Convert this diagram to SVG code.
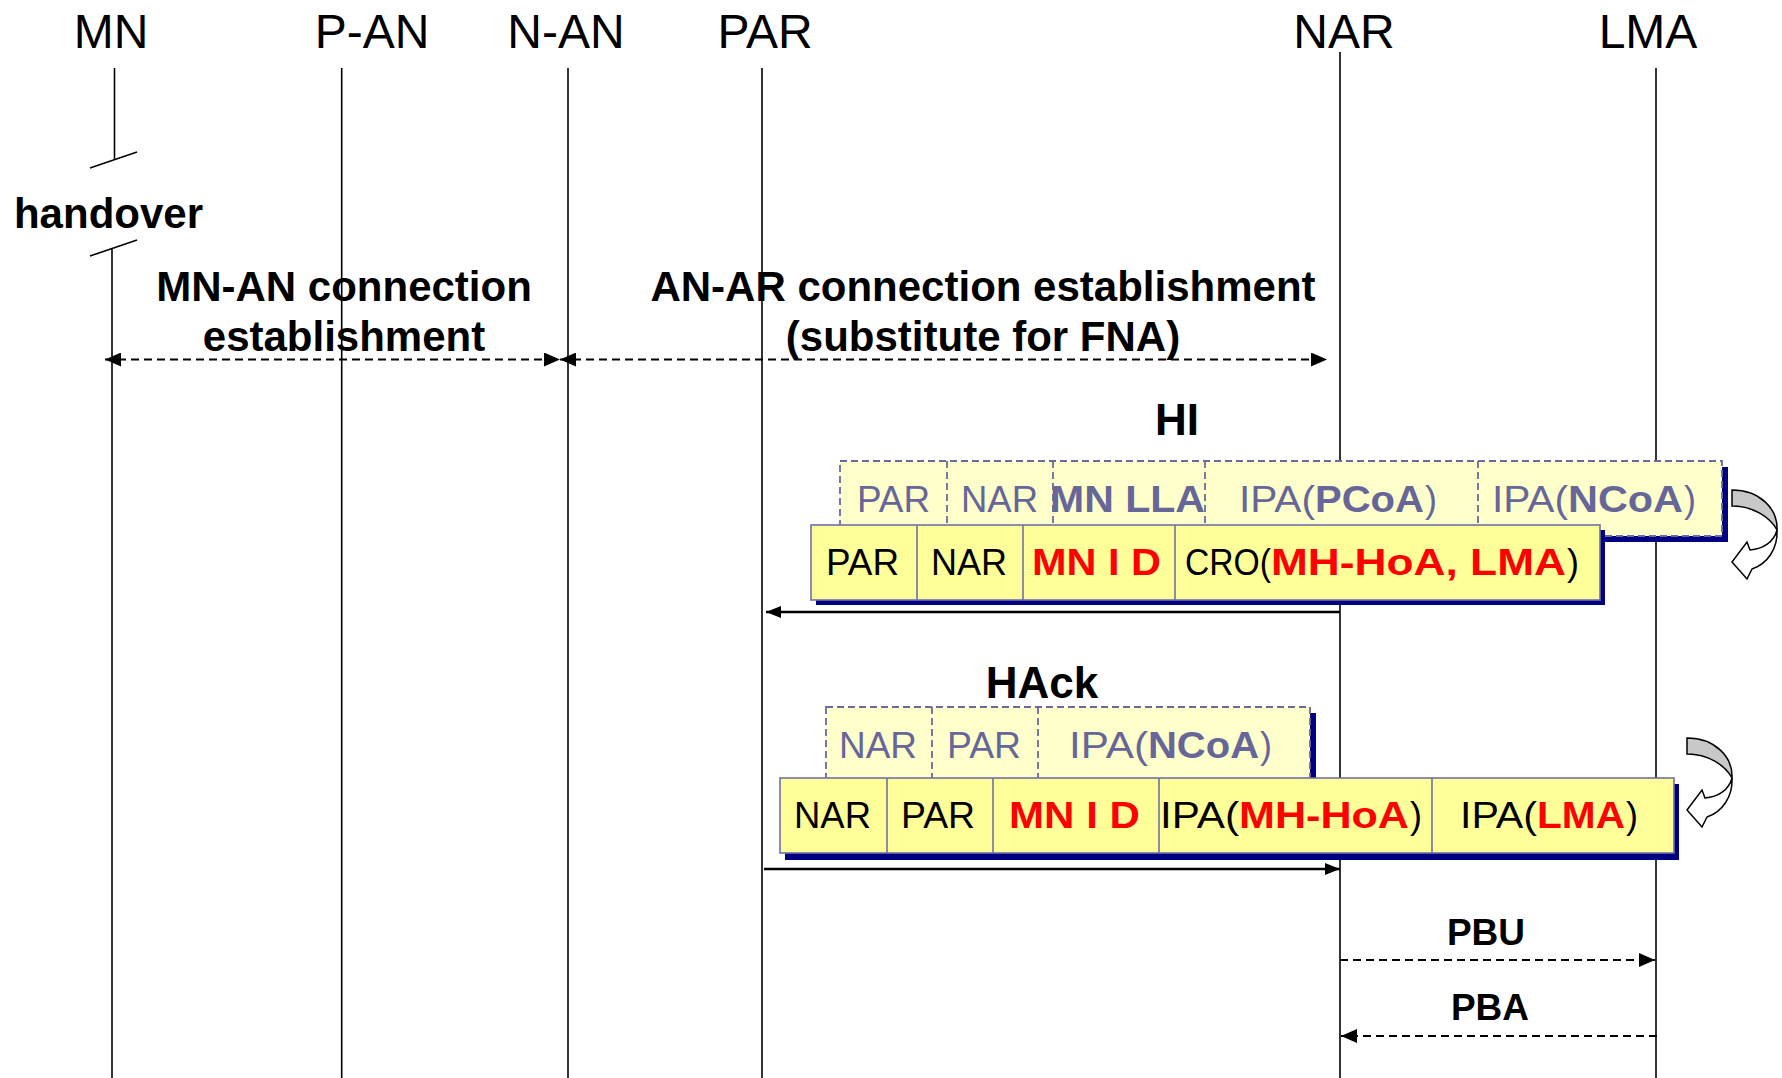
<svg xmlns="http://www.w3.org/2000/svg" width="1782" height="1078" viewBox="0 0 1782 1078">
<style>
.life{stroke:#000;stroke-width:1.6;fill:none}
.hdr{font-family:"Liberation Sans",Arial,sans-serif;font-size:48px;fill:#000;text-anchor:middle}
.lbl{font-family:"Liberation Sans",Arial,sans-serif;font-size:42px;font-weight:bold;fill:#000;text-anchor:middle}
.msg{font-family:"Liberation Sans",Arial,sans-serif;font-size:44px;font-weight:bold;fill:#000;text-anchor:middle}
.pb{font-family:"Liberation Sans",Arial,sans-serif;font-size:37px;font-weight:bold;fill:#000;text-anchor:middle}
.dash{stroke:#000;stroke-width:2;stroke-dasharray:8 5;fill:none}
.solid{stroke:#000;stroke-width:2.5;fill:none}
.front{fill:#FFFF99;stroke:#7070A8;stroke-width:1.6}
.back{fill:#FFFFCC;stroke:#6A6A9E;stroke-width:1.8;stroke-dasharray:7 4}
.shadow{fill:#000080}
.div{stroke:#7070A8;stroke-width:1.6}
.ddiv{stroke:#6A6A9E;stroke-width:1.8;stroke-dasharray:7 4}
.cell{font-family:"Liberation Sans",Arial,sans-serif;font-size:36px}
.ft{fill:#000}
.bt{fill:#666699}
.b{font-weight:bold}
.red{fill:#FF0000;font-weight:bold}
.gray{fill:#C8C8C8;stroke:#000;stroke-width:1.5}
.white{fill:#FFFFFF;stroke:#000;stroke-width:1.5}
</style>
<defs>
<marker id="ah" viewBox="0 0 16 14" refX="16" refY="7" markerWidth="16" markerHeight="14" markerUnits="userSpaceOnUse" orient="auto-start-reverse">
<path d="M0,0 L16,7 L0,14 Z" fill="#000"/>
</marker>
<marker id="sh" viewBox="0 0 15 12" refX="15" refY="6" markerWidth="15" markerHeight="12" markerUnits="userSpaceOnUse" orient="auto">
<path d="M0,0 L15,6 L0,12 Z" fill="#000"/>
</marker>
<g id="uturn">
<path class="gray" d="M0,0 C28,0 46,19 45,40 C38,27 21,16 0,16 Z"/>
<path class="white" d="M45,40 C42,52 31,59 18,60 L15,52 L0,72 L15,89 L20,79 C35,74 46,59 45,40 Z"/>
</g>
</defs>
<rect width="1782" height="1078" fill="#fff"/>

<g id="node-MN">
<text class="hdr" x="111" y="48">MN</text>
<line class="life" x1="114.5" y1="68" x2="114.5" y2="160"/>
<line class="life" x1="90" y1="168" x2="137" y2="152"/>
<line class="life" x1="90" y1="256" x2="137" y2="240"/>
<line class="life" x1="112" y1="248" x2="112" y2="1078"/>
<text class="lbl" x="108.5" y="228">handover</text>
</g>
<g id="node-P-AN">
<text class="hdr" x="372" y="48">P-AN</text>
<line class="life" x1="341.7" y1="68" x2="341.7" y2="1078"/>
</g>
<g id="node-N-AN">
<text class="hdr" x="566" y="48">N-AN</text>
<line class="life" x1="568" y1="68" x2="568" y2="1078"/>
</g>
<g id="node-PAR">
<text class="hdr" x="765" y="48">PAR</text>
<line class="life" x1="762" y1="68" x2="762" y2="1078"/>
</g>
<g id="node-NAR">
<text class="hdr" x="1344" y="48">NAR</text>
<line class="life" x1="1340" y1="52" x2="1340" y2="1078"/>
</g>
<g id="node-LMA">
<text class="hdr" x="1648" y="48">LMA</text>
<line class="life" x1="1656" y1="68" x2="1656" y2="1078"/>
</g>

<g id="labels">
<text class="lbl" x="344" y="301">MN-AN connection</text>
<text class="lbl" x="344" y="351">establishment</text>
<text class="lbl" x="983" y="301">AN-AR connection establishment</text>
<text class="lbl" x="983" y="351">(substitute for FNA)</text>
<text class="msg" x="1177" y="435">HI</text>
<text class="msg" x="1042" y="698">HAck</text>
<text class="pb" x="1486" y="945">PBU</text>
<text class="pb" x="1490" y="1020">PBA</text>
</g>

<g id="connectors">
<line class="dash" x1="105" y1="359.5" x2="560" y2="359.5" marker-start="url(#ah)" marker-end="url(#ah)"/>
<line class="dash" x1="560" y1="359.5" x2="1327" y2="359.5" marker-start="url(#ah)" marker-end="url(#ah)"/>
<line class="solid" x1="1340" y1="612" x2="766" y2="612" marker-end="url(#sh)"/>
<line class="solid" x1="764" y1="869" x2="1340" y2="869" marker-end="url(#sh)"/>
<line class="dash" x1="1340" y1="960" x2="1655" y2="960" marker-end="url(#ah)"/>
<line class="dash" x1="1657" y1="1036" x2="1341" y2="1036" marker-end="url(#ah)"/>
</g>

<g id="HI-packet">
<rect class="shadow" x="846" y="467" width="882" height="75"/>
<rect class="back" x="840" y="461" width="882" height="75"/>
<line class="ddiv" x1="947" y1="461" x2="947" y2="536"/>
<line class="ddiv" x1="1053" y1="461" x2="1053" y2="536"/>
<line class="ddiv" x1="1205" y1="461" x2="1205" y2="536"/>
<line class="ddiv" x1="1478" y1="461" x2="1478" y2="536"/>
<g class="cell bt">
<text x="857" y="512" textLength="73" lengthAdjust="spacingAndGlyphs">PAR</text>
<text x="961" y="512" textLength="77" lengthAdjust="spacingAndGlyphs">NAR</text>
<text class="b" x="1050" y="512" textLength="155" lengthAdjust="spacingAndGlyphs">MN LLA</text>
<text x="1239" y="512" textLength="76" lengthAdjust="spacingAndGlyphs">IPA(</text>
<text class="b" x="1315" y="512" textLength="109" lengthAdjust="spacingAndGlyphs">PCoA</text>
<text x="1425" y="512">)</text>
<text x="1492" y="512" textLength="76" lengthAdjust="spacingAndGlyphs">IPA(</text>
<text class="b" x="1568" y="512" textLength="115" lengthAdjust="spacingAndGlyphs">NCoA</text>
<text x="1684" y="512">)</text>
</g>
<rect class="shadow" x="816" y="530" width="789" height="75"/>
<rect class="front" x="811" y="525" width="789" height="75"/>
<line class="div" x1="917" y1="525" x2="917" y2="600"/>
<line class="div" x1="1023" y1="525" x2="1023" y2="600"/>
<line class="div" x1="1175" y1="525" x2="1175" y2="600"/>
<g class="cell ft">
<text x="826" y="575" textLength="73" lengthAdjust="spacingAndGlyphs">PAR</text>
<text x="931" y="575" textLength="76" lengthAdjust="spacingAndGlyphs">NAR</text>
<text class="red" x="1032" y="575" textLength="129" lengthAdjust="spacingAndGlyphs">MN I D</text>
<text x="1185" y="575" textLength="86" lengthAdjust="spacingAndGlyphs">CRO(</text>
<text class="red" x="1271" y="575" textLength="295" lengthAdjust="spacingAndGlyphs">MH-HoA, LMA</text>
<text x="1567" y="575">)</text>
</g>
</g>

<g id="HAck-packet">
<rect class="shadow" x="832" y="713" width="484" height="71"/>
<rect class="back" x="826" y="707" width="484" height="75"/>
<line class="ddiv" x1="932" y1="707" x2="932" y2="782"/>
<line class="ddiv" x1="1038" y1="707" x2="1038" y2="782"/>
<g class="cell bt">
<text x="839" y="758" textLength="78" lengthAdjust="spacingAndGlyphs">NAR</text>
<text x="947" y="758" textLength="74" lengthAdjust="spacingAndGlyphs">PAR</text>
<text x="1069" y="758" textLength="79" lengthAdjust="spacingAndGlyphs">IPA(</text>
<text class="b" x="1148" y="758" textLength="111" lengthAdjust="spacingAndGlyphs">NCoA</text>
<text x="1260" y="758">)</text>
</g>
<rect class="shadow" x="785" y="784" width="894" height="76"/>
<rect class="front" x="780" y="778" width="894" height="75"/>
<line class="div" x1="887" y1="778" x2="887" y2="853"/>
<line class="div" x1="993" y1="778" x2="993" y2="853"/>
<line class="div" x1="1159" y1="778" x2="1159" y2="853"/>
<line class="div" x1="1432" y1="778" x2="1432" y2="853"/>
<g class="cell ft">
<text x="794" y="828" textLength="77" lengthAdjust="spacingAndGlyphs">NAR</text>
<text x="901" y="828" textLength="74" lengthAdjust="spacingAndGlyphs">PAR</text>
<text class="red" x="1009" y="828" textLength="131" lengthAdjust="spacingAndGlyphs">MN I D</text>
<text x="1160" y="828" textLength="79" lengthAdjust="spacingAndGlyphs">IPA(</text>
<text class="red" x="1239" y="828" textLength="170" lengthAdjust="spacingAndGlyphs">MH-HoA</text>
<text x="1410" y="828">)</text>
<text x="1460" y="828" textLength="77" lengthAdjust="spacingAndGlyphs">IPA(</text>
<text class="red" x="1537" y="828" textLength="88" lengthAdjust="spacingAndGlyphs">LMA</text>
<text x="1626" y="828">)</text>
</g>
</g>

<g id="uturn-HI"><use href="#uturn" transform="translate(1732,490)"/></g>
<g id="uturn-HAck"><use href="#uturn" transform="translate(1687,738)"/></g>
</svg>
